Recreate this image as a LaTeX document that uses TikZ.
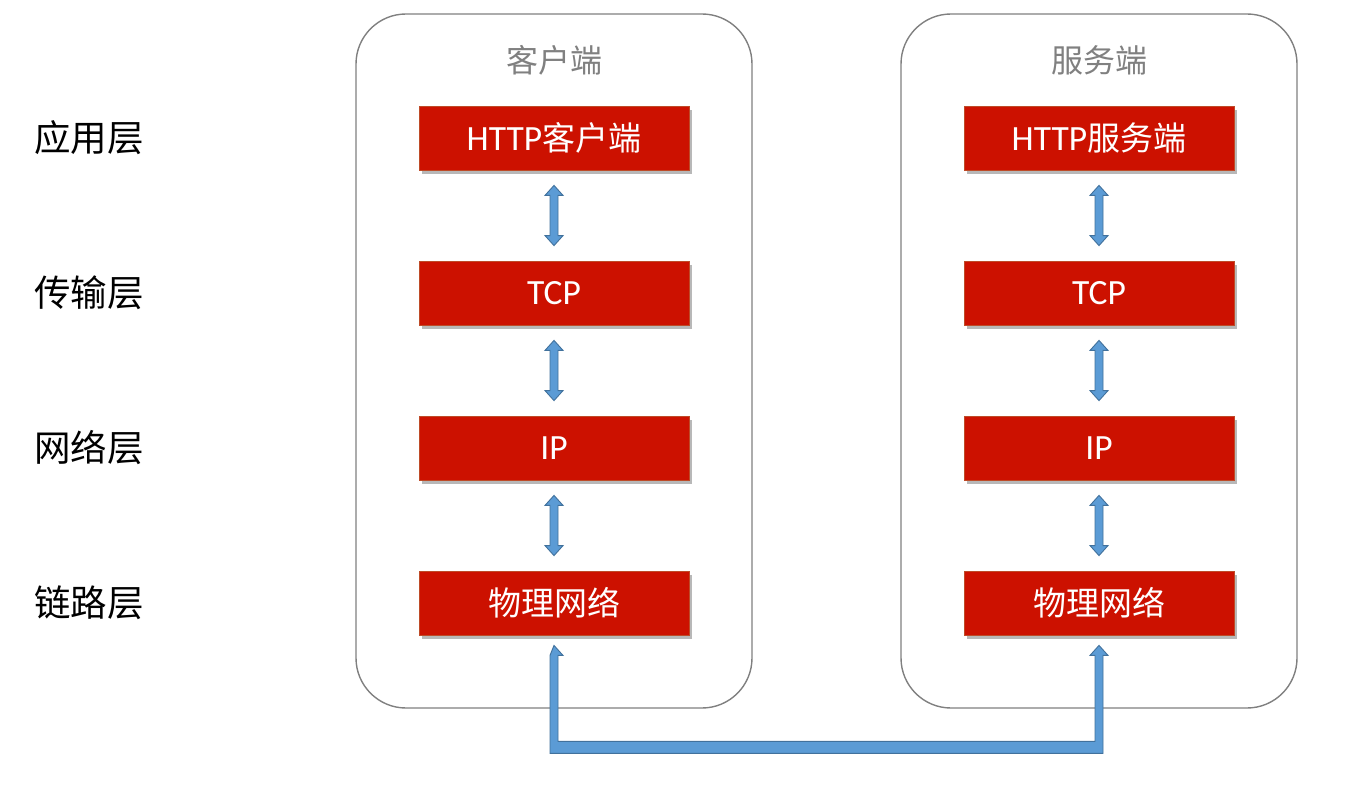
\documentclass[tikz,border=0pt]{standalone}
\usepackage{fontspec}
\setmainfont{Carlito}
\newfontfamily\cjk{Noto Sans CJK SC}
\newfontfamily\carl{Carlito}
\usetikzlibrary{calc,shadows}
\definecolor{boxred}{RGB}{204,17,0}
\definecolor{boxedge}{RGB}{190,75,40}
\definecolor{arrfill}{RGB}{91,155,213}
\definecolor{arredge}{RGB}{65,113,156}
\definecolor{frame}{RGB}{128,128,128}
\tikzset{
  container/.style={draw=frame, line width=1.4pt, rounded corners=50pt, minimum width=396pt, minimum height=694pt, inner sep=0pt},
  titletext/.style={text=frame, font=\cjk\fontsize{32}{36}\selectfont},
  redbox/.style={fill=boxred, draw=boxedge, line width=0.8pt, minimum width=270pt, minimum height=64pt, inner sep=0pt, text=white,
    drop shadow={shadow xshift=3pt, shadow yshift=-4pt, fill=black!35, opacity=0.8}},
  layertext/.style={text=black, font=\cjk\fontsize{36.5}{40}\selectfont},
  barrow/.style={fill=arrfill, draw=arredge, line width=0.9pt, line join=miter},
}
\newcommand{\latinpart}[1]{{\carl\fontsize{35.5}{38}\selectfont #1}}
\newcommand{\cjkpart}[1]{{\cjk\fontsize{33}{38}\selectfont #1}}
\newcommand{\dblarrow}[2]{%
  \path (#1.south) ++(0,15) coordinate (tt);
  \path (#2.north) ++(0,-15) coordinate (bb);
  \draw[barrow] (tt) -- ++(9,10) -- ++(-5,0) -- ($(bb)+(4,-10)$) -- ++(5,0) -- (bb) -- ++(-9,-10) -- ++(5,0) -- ($(tt)+(-4,10)$) -- ++(-5,0) -- cycle;
}
\begin{document}
\begin{tikzpicture}[x=1pt,y=-1pt]
\useasboundingbox (0,0) rectangle (1362,786);
% containers
\node[container] (cl) at (554,361) {};
\node[container] (sv) at (1099,361) {};
\node[titletext] (clt) at (554,60) {客户端};
\node[titletext] (svt) at (1099,60) {服务端};
% layer labels
\node[layertext] (l1) at (89,138) {应用层};
\node[layertext] (l2) at (89,293) {传输层};
\node[layertext] (l3) at (89,448) {网络层};
\node[layertext] (l4) at (89,603) {链路层};
% client boxes
\node[redbox] (c1) at (554,138) {\latinpart{HTTP}\cjkpart{客户端}};
\node[redbox] (c2) at (554,293) {\latinpart{TCP}};
\node[redbox] (c3) at (554,448) {\latinpart{IP}};
\node[redbox] (c4) at (554,603) {\cjkpart{物理网络}};
% server boxes
\node[redbox] (s1) at (1099,138) {\latinpart{HTTP}\cjkpart{服务端}};
\node[redbox] (s2) at (1099,293) {\latinpart{TCP}};
\node[redbox] (s3) at (1099,448) {\latinpart{IP}};
\node[redbox] (s4) at (1099,603) {\cjkpart{物理网络}};
% arrows
\dblarrow{c1}{c2}
\dblarrow{c2}{c3}
\dblarrow{c3}{c4}
\dblarrow{s1}{s2}
\dblarrow{s2}{s3}
\dblarrow{s3}{s4}
% bottom connector
\path (c4.south) ++(0,10) coordinate (ta);
\path (s4.south) ++(0,10) coordinate (tb);
\draw[barrow] (ta) -- ++(9,10) -- ++(-5,0) -- ($(ta)+(4,96)$) -- ($(tb)+(-4,96)$) -- ($(tb)+(-4,10)$) -- ++(-5,0) -- (tb) -- ++(9,10) -- ++(-5,0) -- ($(tb)+(4,108)$) -- ($(ta)+(-4,108)$) -- ($(ta)+(-4,10)$) -- cycle;
\end{tikzpicture}
\end{document}
